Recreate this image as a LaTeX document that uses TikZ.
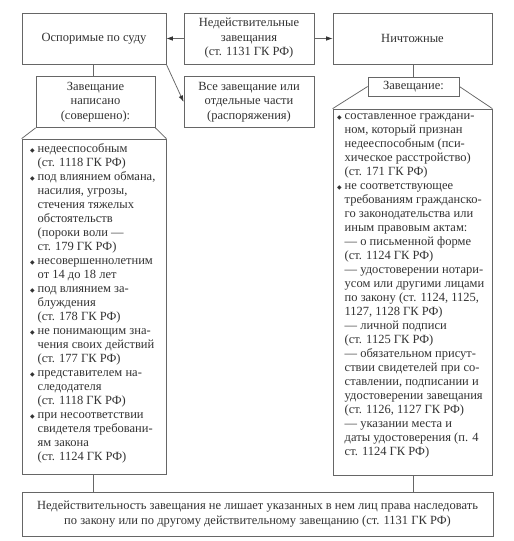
\documentclass[tikz,border=0pt]{standalone}
\usepackage{fontspec}
\setmainfont{Liberation Serif}
\newfontfamily\djfont{DejaVu Sans}
\usetikzlibrary{arrows.meta}
\definecolor{lc}{gray}{0.4}
\definecolor{tc}{gray}{0.2}
\newcommand\bl{\strut\makebox[7.5pt][l]{\djfont\fontsize{6}{6}\selectfont ◆}}
\newcommand\ind{\strut\hspace*{7.5pt}}
\begin{document}
\begin{tikzpicture}[x=1pt,y=-1pt,
  box/.style={draw=lc, line width=0.75pt, inner sep=0pt, text=tc, align=center,
     font=\fontsize{12.5}{14.5}\selectfont},
  ln/.style={draw=lc, line width=0.75pt},
  arr/.style={ln, -{Latex[length=6.5pt,width=4.5pt,color=tc]}},
  lst/.style={inner sep=0pt, text=tc, align=left, font=\fontsize{12.5}{14}\selectfont, anchor=west}]
\useasboundingbox (0,0) rectangle (514,541);
\fill[white] (0,0) rectangle (514,541);
% top row
\node[box, minimum width=144pt, minimum height=51pt] (L) at (94,38.5) {Оспоримые по суду};
\node[box, minimum width=130pt, minimum height=51pt] (C) at (249,38.5) {Недействительные\\завещания\\(ст. 1131 ГК РФ)};
\node[box, minimum width=159pt, minimum height=51pt] (N) at (412.5,38.5) {Ничтожные};
% second row
\node[box, minimum width=119pt, minimum height=51pt] (W) at (95.5,102) {Завещание\\написано\\(совершено):};
\node[box, minimum width=130pt, minimum height=51pt] (V) at (249,102) {Все завещание или\\отдельные части\\(распоряжения)};
\node[box, minimum width=91pt, minimum height=19pt] (Z) at (413.5,86.5) {Завещание:};
% list boxes
\node[box, minimum width=144pt, minimum height=335pt] (LL) at (94,306.5) {};
\node[box, minimum width=159pt, minimum height=366pt] (RL) at (412.5,292) {};
% bottom box
\node[box, minimum width=471pt, minimum height=44pt, font=\fontsize{12.5}{15}\selectfont] (B) at (257.5,514)
  {Недействительность завещания не лишает указанных в нем лиц права наследовать\\по закону или по другому действительному завещанию (ст. 1131 ГК РФ)};
% list texts
\node[lst] (LT) at (30,303.4) {\bl недееспособным\\
\ind(ст. 1118 ГК РФ)\\
\bl под влиянием обмана,\\
\ind насилия, угрозы,\\
\ind стечения тяжелых\\
\ind обстоятельств\\
\ind(пороки воли —\\
\ind ст. 179 ГК РФ)\\
\bl несовершеннолетним\\
\ind от 14 до 18 лет\\
\bl под влиянием за-\\
\ind блуждения\\
\ind(ст. 178 ГК РФ)\\
\bl не понимающим зна-\\
\ind чения своих действий\\
\ind(ст. 177 ГК РФ)\\
\bl представителем на-\\
\ind следодателя\\
\ind(ст. 1118 ГК РФ)\\
\bl при несоответствии\\
\ind свидетеля требовани-\\
\ind ям закона\\
\ind(ст. 1124 ГК РФ)};
\node[lst] (RT) at (337,285) {\bl составленное граждани-\\
\ind ном, который признан\\
\ind недееспособным (пси-\\
\ind хическое расстройство)\\
\ind(ст. 171 ГК РФ)\\
\bl не соответствующее\\
\ind требованиям гражданско-\\
\ind го законодательства или\\
\ind иным правовым актам:\\
\ind — о письменной форме\\
\ind(ст. 1124 ГК РФ)\\
\ind — удостоверении нотари-\\
\ind усом или другими лицами\\
\ind по закону (ст. 1124, 1125,\\
\ind 1127, 1128 ГК РФ)\\
\ind — личной подписи\\
\ind(ст. 1125 ГК РФ)\\
\ind — обязательном присут-\\
\ind ствии свидетелей при со-\\
\ind ставлении, подписании и\\
\ind удостоверении завещания\\
\ind(ст. 1126, 1127 ГК РФ)\\
\ind — указании места и\\
\ind даты удостоверения (п. 4\\
\ind ст. 1124 ГК РФ)};
% connectors
\draw[arr] (C.west) -- (L.east);
\draw[arr] (C.east) -- (N.west);
\draw[arr] (L.south east) -- (V.west);
\draw[ln] (L.south -| 93,0) -- (W.north -| 93,0);
\draw[ln] (W.south west) -- (LL.north west);
\draw[ln] (W.south east) -- (LL.north east);
\draw[ln] (LL.south -| 93,0) -- (B.north -| 93,0);
\draw[ln] (N.south -| 413,0) -- (Z.north -| 413,0);
\draw[ln] (Z.west) -- (RL.north west);
\draw[ln] (Z.east) -- (RL.north east);
\draw[ln] (RL.south -| 413,0) -- (B.north -| 413,0);
\end{tikzpicture}
\end{document}
